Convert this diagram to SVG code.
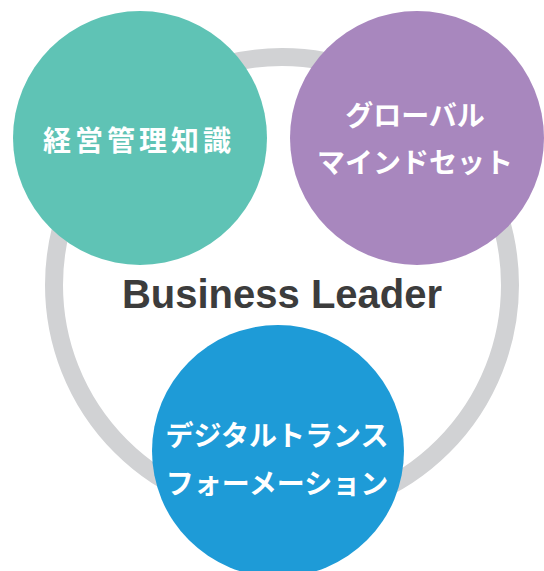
<svg xmlns="http://www.w3.org/2000/svg" width="544" height="571" viewBox="0 0 544 571">
<style>
.jp{font-family:"Noto Sans CJK JP","Noto Sans",sans-serif;font-weight:700;font-size:28px;fill:#ffffff;text-anchor:middle}
.title{font-family:"Liberation Sans",Arial,sans-serif;font-weight:700;font-size:40px;fill:#3c3c3c;text-anchor:middle}
</style>
<rect width="544" height="571" fill="#ffffff"/>
<g id="connectors">
<circle cx="282" cy="285" r="228" fill="none" stroke="#d1d2d4" stroke-width="18"/>
</g>
<g id="center-label">
<text class="title" x="282" y="308">Business Leader</text>
</g>
<g id="node-management">
<circle cx="140" cy="138" r="127" fill="#5fc3b5"/>
<text class="jp" x="139" y="151" letter-spacing="4">経営管理知識</text>
</g>
<g id="node-global">
<circle cx="417" cy="138" r="127" fill="#a887be"/>
<text class="jp" x="415" y="126">グローバル</text>
<text class="jp" x="415" y="173">マインドセット</text>
</g>
<g id="node-dx">
<circle cx="278" cy="451" r="126" fill="#1e9bd7"/>
<text class="jp" x="277" y="446">デジタルトランス</text>
<text class="jp" x="277" y="494">フォーメーション</text>
</g>
</svg>
